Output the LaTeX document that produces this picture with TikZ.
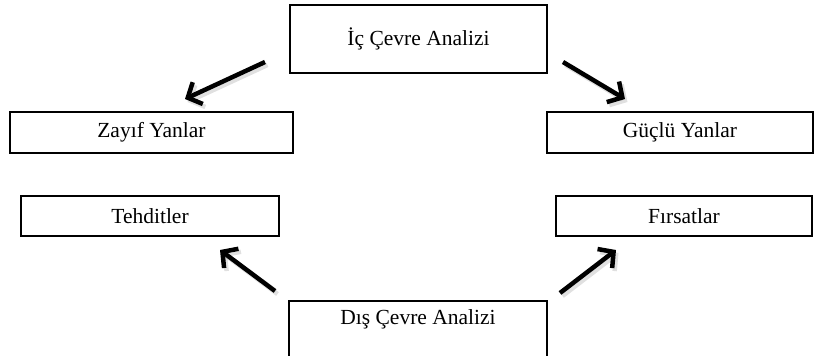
\documentclass[tikz,border=0pt]{standalone}
\usepackage{fontspec}
\setmainfont{Liberation Serif}
\usetikzlibrary{arrows.meta}
\begin{document}
\begin{tikzpicture}[x=1pt,y=-1pt,
  box/.style={draw=black,line width=1.8pt,rectangle,inner sep=0pt,font=\fontsize{21.5}{26}\selectfont},
  lbl/.style={inner sep=0pt,font=\fontsize{21.5}{26}\selectfont},
  arr/.style={line width=4.5pt,-{Straight Barb[length=11pt,width=24pt]}},
  shd/.style={line width=4.5pt,draw=black!40,opacity=0.3,-{Straight Barb[length=11pt,width=24pt]}}]
\useasboundingbox (0,0) rectangle (815,356);
\clip (0,0) rectangle (815,356);
\node[box,minimum width=257pt,minimum height=68pt] (ic) at (418.5,39) {İç Çevre Analizi};
\node[box,minimum width=283pt,minimum height=41pt] (zayif) at (151.5,132.5) {Zayıf Yanlar};
\node[box,minimum width=266pt,minimum height=41pt] (guclu) at (680,132.5) {Güçlü Yanlar};
\node[box,minimum width=258pt,minimum height=40pt] (tehdit) at (150,216) {Tehditler};
\node[box,minimum width=256pt,minimum height=40pt] (firsat) at (684,216) {Fırsatlar};
\node[box,minimum width=258pt,minimum height=90pt,anchor=north] (dis) at (418,300) {};
\node[lbl] (distxt) at (418,319) {Dış Çevre Analizi};
\coordinate (a1s) at (265,62); \coordinate (a1e) at (185,99);
\coordinate (a2s) at (563,62); \coordinate (a2e) at (625,99);
\coordinate (a3s) at (275,291); \coordinate (a3e) at (220,250);
\coordinate (a4s) at (560,293); \coordinate (a4e) at (616,250);
\foreach \s/\e in {a1s/a1e,a2s/a2e,a3s/a3e,a4s/a4e}{
  \draw[shd] ([shift={(2.5,3)}]\s) -- ([shift={(2.5,3)}]\e);
  \draw[arr] (\s) -- (\e);
}
\end{tikzpicture}
\end{document}
